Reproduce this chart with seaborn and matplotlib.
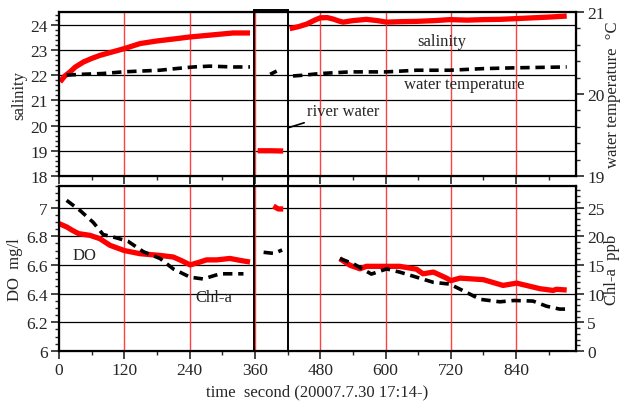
import matplotlib
matplotlib.use("Agg")
import matplotlib.pyplot as plt
import matplotlib.transforms as mtransforms
from matplotlib.patches import Rectangle
from matplotlib.ticker import MultipleLocator
import pandas as pd
import seaborn as sns

# ---- data (time in seconds) ----
sal_t = [[2, 10, 20, 30, 45, 60, 75, 95, 120, 149, 179, 210, 240, 280, 320, 351],
         [365, 390, 412],
         [424, 440, 455, 470, 480, 493, 504, 515, 522, 540, 565, 585, 602, 630,
          657, 690, 718, 750, 780, 810, 841, 870, 900, 933]]
sal_v = [[21.73, 21.95, 22.12, 22.32, 22.52, 22.66, 22.78, 22.9, 23.05, 23.25,
          23.35, 23.43, 23.51, 23.59, 23.67, 23.67],
         [19.0, 19.0, 18.99],
         [23.84, 23.92, 24.02, 24.18, 24.27, 24.28, 24.22, 24.14, 24.1, 24.16,
          24.21, 24.16, 24.1, 24.12, 24.13, 24.16, 24.2, 24.18, 24.2, 24.21,
          24.24, 24.27, 24.3, 24.34]]

temp_t = [[14, 40, 80, 118, 150, 185, 215, 247, 277, 320, 351],
          [388, 394, 400],
          [430, 450, 480, 535, 602, 657, 718, 780, 841, 933]]
temp_v = [[20.23, 20.24, 20.25, 20.27, 20.28, 20.29, 20.31, 20.33, 20.34, 20.33, 20.33],
          [20.24, 20.26, 20.28],
          [20.22, 20.23, 20.25, 20.27, 20.27, 20.29, 20.29, 20.31, 20.32, 20.33]]

do_t = [[0, 14, 25, 36, 57, 75, 94, 120, 149, 186, 210, 225, 241, 259, 271, 290,
         314, 335, 351],
        [394, 403, 412],
        [516, 535, 553, 565, 602, 626, 657, 669, 688, 712, 720, 737, 780, 816,
         841, 884, 908, 914, 933]]
do_v = [[6.888, 6.865, 6.84, 6.818, 6.806, 6.783, 6.736, 6.70, 6.678, 6.666,
         6.655, 6.63, 6.60, 6.62, 6.635, 6.635, 6.645, 6.63, 6.62],
        [7.01, 6.99, 6.99],
        [6.643, 6.597, 6.573, 6.59, 6.59, 6.59, 6.57, 6.538, 6.55, 6.508, 6.49,
         6.508, 6.497, 6.457, 6.473, 6.434, 6.422, 6.43, 6.425]]

chl_t = [[14, 39, 63, 81, 106, 127, 155, 186, 210, 241, 265, 296, 339],
         [376, 395, 410],
         [516, 541, 574, 602, 626, 657, 688, 718, 749, 774, 810, 836, 871, 896,
          920, 933]]
chl_v = [[26.25, 24.46, 22.4, 20.3, 19.7, 19.1, 17.3, 16.1, 14.3, 12.86, 12.55,
          13.45, 13.45],
         [17.2, 17.0, 17.6],
         [16.1, 15.2, 13.4, 14.3, 13.75, 12.86, 11.96, 11.66, 10.2, 9.0, 8.57,
          8.8, 8.7, 7.8, 7.3, 7.3]]

red_lines = [120, 240, 360, 480, 600, 720, 840]


def to_df(ts, vs):
    rows = []
    for seg, (t, v) in enumerate(zip(ts, vs)):
        for a, b in zip(t, v):
            rows.append((seg, a, b))
    return pd.DataFrame(rows, columns=['seg', 't', 'v'])


sns.set_style("ticks")
plt.rcParams['font.family'] = ['Liberation Serif', 'DejaVu Serif']
plt.rcParams['font.size'] = 12

fig = plt.figure(figsize=(6.21, 4.14), dpi=100)
ax1 = fig.add_axes([0.095, 0.5725, 0.8325, 0.396])
ax2 = fig.add_axes([0.095, 0.1498, 0.8325, 0.3985])
ax1r = ax1.twinx()
ax2r = ax2.twinx()

red_kw = dict(color='#ff0000', lw=3.8, solid_capstyle='butt', legend=False)
dash_kw = dict(color='black', lw=2.6, linestyle=(0, (2.6, 1.6)), legend=False)

sns.lineplot(data=to_df(sal_t, sal_v), x='t', y='v', units='seg', estimator=None,
             ax=ax1, zorder=3, **red_kw)
sns.lineplot(data=to_df(temp_t, temp_v), x='t', y='v', units='seg', estimator=None,
             ax=ax1r, zorder=3, **dash_kw)
sns.lineplot(data=to_df(do_t, do_v), x='t', y='v', units='seg', estimator=None,
             ax=ax2, zorder=3, **red_kw)
sns.lineplot(data=to_df(chl_t, chl_v), x='t', y='v', units='seg', estimator=None,
             ax=ax2r, zorder=3, **dash_kw)

for ax in (ax1, ax2):
    ax.set_xlim(0, 950)
    ax.xaxis.set_major_locator(MultipleLocator(120))
    ax.xaxis.set_minor_locator(MultipleLocator(60))
    ax.grid(axis='y', color='black', lw=0.9)
    ax.grid(axis='x', visible=False)
    for x in red_lines:
        ax.axvline(x, color='#ff2020', lw=1.0, alpha=0.85, zorder=1)
    ax.tick_params(axis='both', which='major', direction='out', length=6,
                   width=1.2, labelsize=12.5, pad=2)
    ax.tick_params(axis='both', which='minor', direction='out', length=3, width=1)
    ax.set_xlabel('')

for ax in (ax1r, ax2r):
    ax.tick_params(axis='y', which='major', direction='out', length=6,
                   width=1.2, labelsize=12.5, pad=2)
    ax.tick_params(axis='y', which='minor', direction='out', length=3, width=1)
    for s in ax.spines.values():
        s.set_linewidth(1.6)
        s.set_color('black')

ax1.set_ylim(18, 24.5)
ax1.yaxis.set_major_locator(MultipleLocator(1))
ax1.yaxis.set_minor_locator(MultipleLocator(0.2))
ax1.tick_params(axis='x', labelbottom=False)
ax1r.set_ylim(19, 21)
ax1r.yaxis.set_major_locator(MultipleLocator(1))
ax1r.yaxis.set_minor_locator(MultipleLocator(0.2))

ax2.set_ylim(6, 7.15)
ax2.yaxis.set_minor_locator(MultipleLocator(0.05))
ax2.set_yticks([6, 6.2, 6.4, 6.6, 6.8, 7])
ax2.set_yticklabels(['6', '6.2', '6.4', '6.6', '6.8', '7'])
ax2r.set_ylim(0, 28.75)
ax2r.yaxis.set_major_locator(MultipleLocator(5))
ax2r.yaxis.set_minor_locator(MultipleLocator(1))

ax1.set_ylabel('salinity', labelpad=2)
ax1r.set_ylabel('water temperature  \u00b0C', labelpad=0)
ax2.set_ylabel('DO  mg/l', labelpad=2)
ax2r.set_ylabel('Chl-a  ppb', labelpad=0)
ax2.set_xlabel('time  second (20007.7.30 17:14-)', labelpad=4)

# in-plot labels
ax1.text(704, 23.37, 'salinity', ha='center', va='center')
ax1.text(744, 21.66, 'water temperature', ha='center', va='center')
ax2.text(47, 6.667, 'DO', ha='center', va='center')
ax2.text(285, 6.376, 'Chl-a', ha='center', va='center')
ax1.annotate('river water', xy=(421, 19.91), xytext=(455, 20.59),
             ha='left', va='center',
             arrowprops=dict(arrowstyle='-', color='black', lw=1.2,
                             shrinkA=2, shrinkB=0))

# box marking the river water period, across both panels
trans = mtransforms.blended_transform_factory(ax1.transData, fig.transFigure)
fig.add_artist(Rectangle((358, 1 - 352 / 414), 63, (352 - 11) / 414,
                         transform=trans, fill=False, ec='black', lw=1.4,
                         zorder=10))

fig.savefig('out.png', dpi=100)
